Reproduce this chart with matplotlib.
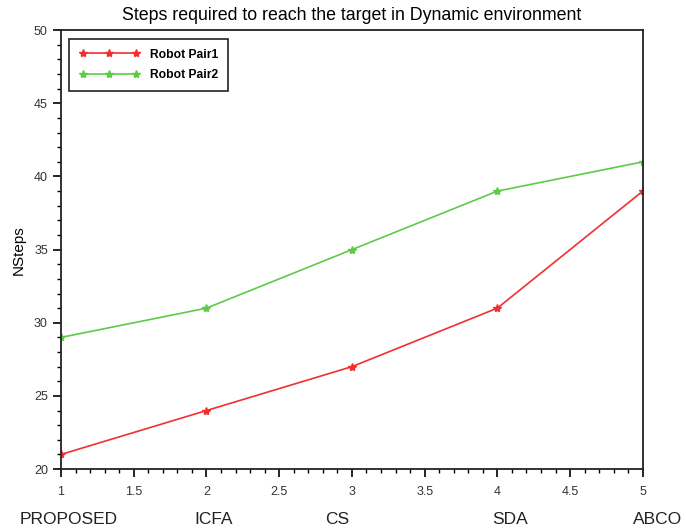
import numpy as np
import matplotlib.pyplot as plt
from matplotlib.ticker import MultipleLocator

plt.rcParams['font.family'] = ['Liberation Sans', 'DejaVu Sans']

x_vals = [1, 2, 3, 4, 5]
pair1 = [21, 24, 27, 31, 39]
pair2 = [29, 31, 35, 39, 41]
methods = ['PROPOSED', 'ICFA', 'CS', 'SDA', 'ABCO']
# where the method names sit along x (they are not exactly under the ticks)
method_pos = [1.05, 2.05, 2.9, 4.09, 5.1]


def main():
    fig = plt.figure(figsize=(6.86, 5.30), dpi=100)
    ax = fig.add_axes([0.089, 0.115, 0.848, 0.828])

    ax.plot(x_vals, pair1, color='#f03030', lw=1.2, marker='*', ms=6,
            label='Robot Pair1')
    ax.plot(x_vals, pair2, color='#5ccc48', lw=1.2, marker='*', ms=6,
            label='Robot Pair2')

    ax.set_xlim(1, 5)
    ax.set_ylim(20, 50)
    ax.xaxis.set_major_locator(MultipleLocator(0.5))
    ax.xaxis.set_minor_locator(MultipleLocator(0.1))
    ax.yaxis.set_major_locator(MultipleLocator(5))
    ax.yaxis.set_minor_locator(MultipleLocator(1))
    ax.set_xticks(np.arange(1, 5.01, 0.5))
    ax.set_xticklabels(['1', '1.5', '2', '2.5', '3', '3.5', '4', '4.5', '5'])
    ax.tick_params(which='major', length=6, width=1.2, direction='out',
                   labelsize=9, labelcolor='#333333')
    ax.tick_params(which='minor', length=3, width=1, direction='out')
    ax.tick_params(axis='x', pad=6)
    for s in ax.spines.values():
        s.set_linewidth(1.3)
        s.set_color('#222222')

    ax.set_title('Steps required to reach the target in Dynamic environment',
                 fontsize=12.8, pad=7)
    ax.set_ylabel('NSteps', fontsize=11, labelpad=6)

    for name, p in zip(methods, method_pos):
        ax.text(p, -0.115, name, transform=ax.get_xaxis_transform(),
                ha='center', va='center', fontsize=12.5, color='#222222')

    leg = ax.legend(loc='upper left', bbox_to_anchor=(0.004, 0.994),
                    numpoints=3, handlelength=5, fancybox=False,
                    framealpha=1, edgecolor='#222222',
                    prop={'weight': 'bold', 'size': 8.7},
                    borderpad=0.8, labelspacing=0.7, handletextpad=0.9)
    leg.get_frame().set_linewidth(1.2)

    plt.savefig('out.png', dpi=100)


if __name__ == '__main__':
    main()
